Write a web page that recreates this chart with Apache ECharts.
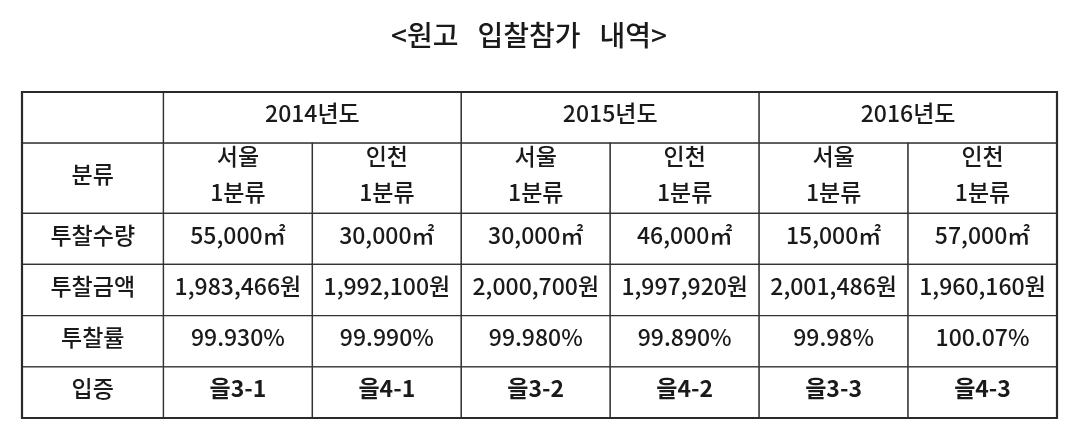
<!DOCTYPE html>
<html><head><meta charset="utf-8">
<script src="https://cdn.jsdelivr.net/npm/echarts@6/dist/echarts.min.js"></script>
<style>html,body{margin:0;padding:0;background:#fff}#c{width:1074px;height:443px}</style>
</head><body><div id="c"></div>
<script>
const titleText = '<원고   입찰참가   내역>';
const years = ['2014년도', '2015년도', '2016년도'];
const regions = ['서울', '인천', '서울', '인천', '서울', '인천'];
const classLabel = '1분류';
const headerLabel = '분류';
const rowLabels = ['투찰수량', '투찰금액', '투찰률', '입증'];
const quantity = [55000, 30000, 30000, 46000, 15000, 57000];
const amount = [1983466, 1992100, 2000700, 1997920, 2001486, 1960160];
const rate = ['99.930%', '99.990%', '99.980%', '99.890%', '99.98%', '100.07%'];
const evidence = ['을3-1', '을4-1', '을3-2', '을4-2', '을3-3', '을4-3'];

// table structure (relative column / row proportions)
const colWeights = [0.95, 1, 1, 1, 1, 1, 1];
const rowWeights = [1, 1.37, 1, 1, 1, 1];
const cum = w => w.reduce((a, v) => { a.push(a[a.length - 1] + v); return a; }, [0]);
const colEdges = cum(colWeights);
const rowEdges = cum(rowWeights);

const fmt = n => n.toLocaleString('en-US');
const cells = [];
function addCell(c0, c1, r0, r1, text, bold) {
  cells.push({ value: [colEdges[c0], rowEdges[r0], colEdges[c1], rowEdges[r1]], text: text, bold: !!bold });
}
addCell(0, 1, 0, 1, '');
years.forEach((y, i) => addCell(1 + 2 * i, 3 + 2 * i, 0, 1, y));
addCell(0, 1, 1, 2, headerLabel);
regions.forEach((r, i) => addCell(1 + i, 2 + i, 1, 2, r + '\n' + classLabel));
const rowsData = [
  quantity.map(v => fmt(v) + '㎡'),
  amount.map(v => fmt(v) + '원'),
  rate,
  evidence
];
rowLabels.forEach((lab, j) => {
  addCell(0, 1, 2 + j, 3 + j, lab);
  rowsData[j].forEach((t, i) => addCell(1 + i, 2 + i, 2 + j, 3 + j, t, j === 3));
});

const FONT = '"Noto Sans CJK KR", "Noto Sans", sans-serif';
const chart = echarts.init(document.getElementById('c'));
chart.setOption({
  backgroundColor: '#fff',
  animation: false,
  title: {
    text: titleText, left: 529, top: 21, textAlign: 'center', padding: 0,
    textStyle: { fontFamily: FONT, fontSize: 28, fontWeight: 500, color: '#1a1a1a' }
  },
  grid: { left: 22, top: 92, width: 1035, height: 326 },
  xAxis: { type: 'value', min: 0, max: colEdges[colEdges.length - 1], show: false },
  yAxis: { type: 'value', min: 0, max: rowEdges[rowEdges.length - 1], inverse: true, show: false },
  series: [{
    type: 'custom',
    data: cells.map(c => c.value),
    renderItem: function (params, api) {
      const c = cells[params.dataIndex];
      const p0 = api.coord([api.value(0), api.value(1)]);
      const p1 = api.coord([api.value(2), api.value(3)]);
      const x = Math.min(p0[0], p1[0]), y = Math.min(p0[1], p1[1]);
      const w = Math.abs(p1[0] - p0[0]), h = Math.abs(p1[1] - p0[1]);
      return {
        type: 'group',
        children: [
          { type: 'rect', shape: { x: x, y: y, width: w, height: h },
            style: { fill: '#fff', stroke: '#333', lineWidth: 1.3 } },
          { type: 'text', style: {
              text: c.text, x: x + w / 2, y: y + h / 2 - 4, align: 'center', verticalAlign: 'middle',
              fontFamily: FONT, fontSize: 23, fontWeight: c.bold ? 'bold' : 500,
              fill: '#1a1a1a', lineHeight: 36 } }
        ]
      };
    }
  }, {
    type: 'custom',
    data: [[0, 0, colEdges[colEdges.length - 1], rowEdges[rowEdges.length - 1]]],
    z: 5,
    renderItem: function (params, api) {
      const p0 = api.coord([api.value(0), api.value(1)]);
      const p1 = api.coord([api.value(2), api.value(3)]);
      return { type: 'rect', shape: { x: p0[0], y: Math.min(p0[1], p1[1]), width: p1[0] - p0[0], height: Math.abs(p1[1] - p0[1]) },
        style: { fill: 'none', stroke: '#2a2a2a', lineWidth: 2.2 } };
    }
  }]
});
</script></body></html>
